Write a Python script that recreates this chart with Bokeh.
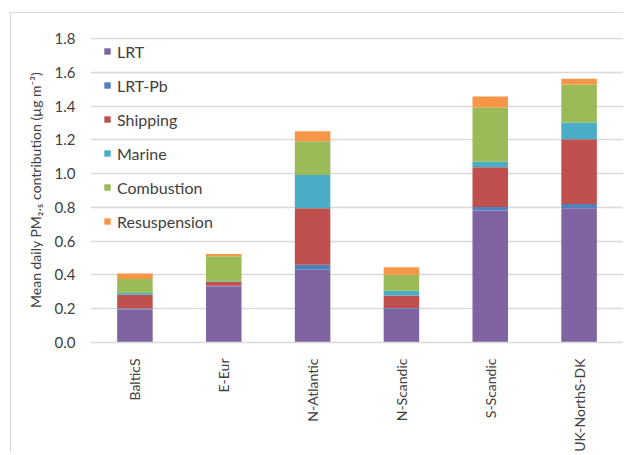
from bokeh.plotting import figure
from bokeh.models import Range1d, FactorRange, Legend, NumeralTickFormatter
from bokeh.embed import file_html
from bokeh.resources import INLINE

regions = ["BalticS", "E-Eur", "N-Atlantic", "N-Scandic", "S-Scandic", "UK-NorthS-DK"]
sources = ["LRT", "LRT-Pb", "Shipping", "Marine", "Combustion", "Resuspension"]
lrt = [0.195, 0.333, 0.431, 0.200, 0.781, 0.795]
lrt_pb = [0.007, 0.003, 0.029, 0.005, 0.022, 0.025]
shipping = [0.081, 0.024, 0.335, 0.074, 0.234, 0.384]
marine = [0.010, 0.003, 0.197, 0.028, 0.033, 0.099]
combustion = [0.083, 0.147, 0.200, 0.094, 0.321, 0.224]
resuspension = [0.033, 0.014, 0.059, 0.044, 0.065, 0.035]
colors = ["#8064A2", "#4F81BD", "#C0504D", "#4BACC6", "#9BBB59", "#F79646"]
y_ticks = [0.0, 0.2, 0.4, 0.6, 0.8, 1.0, 1.2, 1.4, 1.6, 1.8]

data = {"region": regions, "LRT": lrt, "LRT-Pb": lrt_pb, "Shipping": shipping,
        "Marine": marine, "Combustion": combustion, "Resuspension": resuspension}

FONT = "Lato"
TXT = "#404040"

p = figure(width=613, height=441, x_range=FactorRange(*regions, range_padding=0),
           y_range=Range1d(0, 1.806), output_backend="svg", toolbar_location=None,
           min_border_left=79, min_border_right=1, min_border_top=24, min_border_bottom=111)
p.styles = {"margin-left": "10px", "margin-top": "12px",
            "border-left": "1px solid #d9d9d9", "border-top": "1px solid #d9d9d9"}

rs = p.vbar_stack(sources, x="region", width=0.4, color=colors, source=data, line_width=0)

p.outline_line_color = None
p.xgrid.grid_line_color = None
p.ygrid.grid_line_color = "#d9d9d9"
p.ygrid.grid_line_width = 1.3
p.yaxis.ticker = y_ticks
p.yaxis.formatter = NumeralTickFormatter(format="0.0")
p.yaxis.axis_line_color = None
p.yaxis.major_tick_line_color = None
p.yaxis.minor_tick_line_color = None
p.yaxis.major_label_standoff = 9
p.yaxis.major_label_text_font = FONT
p.yaxis.major_label_text_font_size = "15px"
p.yaxis.major_label_text_color = TXT
p.yaxis.axis_label = "Mean daily PM\u2082.\u2085 contribution (\u00b5g m\u207b\u00b3)"
p.yaxis.axis_label_text_font = FONT
p.yaxis.axis_label_text_font_size = "14px"
p.yaxis.axis_label_text_font_style = "normal"
p.yaxis.axis_label_text_color = TXT
p.yaxis.axis_label_standoff = 8

p.xaxis.axis_line_color = "#d9d9d9"
p.xaxis.axis_line_width = 1.3
p.xaxis.major_tick_line_color = None
p.xaxis.minor_tick_line_color = None
p.xaxis.major_label_orientation = 1.5708
p.xaxis.major_label_standoff = 10
p.xaxis.major_label_text_font = FONT
p.xaxis.major_label_text_font_size = "14px"
p.xaxis.major_label_text_color = TXT

legend = Legend(items=[(s, [r]) for s, r in zip(sources, rs)], location=(13, 111),
                background_fill_alpha=0, border_line_color=None, padding=0, margin=0,
                glyph_width=8, glyph_height=8, label_height=20, spacing=14,
                label_standoff=6, label_text_font=FONT, label_text_font_size="16px",
                label_text_color=TXT, label_text_baseline="middle")
p.add_layout(legend)

open("out.html", "w").write(file_html(p, INLINE))
